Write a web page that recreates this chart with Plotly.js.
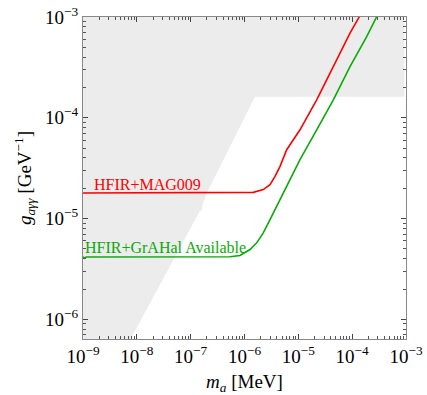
<!DOCTYPE html>
<html><head><meta charset="utf-8">
<script src="https://cdn.plot.ly/plotly-3.0.1.min.js"></script>
<style>html,body{margin:0;padding:0;background:#fff}#c{width:427px;height:395px}</style>
</head><body><div id="c"></div>
<script>
// log10 values
const regionLogX = [-9.2, -8.22, -8.108, -6.845, -6.83, -6.80, -6.78, -6.74, -6.696, -5.805, -3.03, -3.03, -9.2];
const regionLogY = [-6.3, -6.3, -6.188, -4.941, -4.925, -4.93, -4.86, -4.80, -4.743, -3.792, -3.792, -2.9, -2.9];

const redLogX = [-9.0, -7.0, -6.2, -5.836, -5.651, -5.526, -5.433, -5.340, -5.216, -4.969, -4.659, -4.350, -4.040, -3.867, -3.85];
const redLogY = [-4.746, -4.746, -4.745, -4.740, -4.713, -4.663, -4.581, -4.482, -4.317, -4.119, -3.822, -3.492, -3.161, -2.997, -2.98];

const greenLogX = [-9.0, -8.97, -8.94, -8.0, -6.827, -6.269, -6.083, -5.898, -5.773, -5.651, -5.526, -5.340, -5.155, -4.969, -4.659, -4.350, -4.040, -3.730, -3.544, -3.53];
const greenLogY = [-5.379, -5.392, -5.381, -5.381, -5.381, -5.379, -5.366, -5.307, -5.241, -5.142, -5.010, -4.812, -4.614, -4.416, -4.119, -3.822, -3.492, -3.195, -2.997, -2.98];

const labels = ["HFIR+MAG009", "HFIR+GrAHal Available"];
const xTickVals = [1e-9, 1e-8, 1e-7, 1e-6, 1e-5, 1e-4, 1e-3];
const xTickText = ["10<sup>−9</sup>", "10<sup>−8</sup>", "10<sup>−7</sup>", "10<sup>−6</sup>", "10<sup>−5</sup>", "10<sup>−4</sup>", "10<sup>−3</sup>"];
const yTickVals = [1e-6, 1e-5, 1e-4, 1e-3];
const yTickText = ["10<sup>−6</sup>", "10<sup>−5</sup>", "10<sup>−4</sup>", "10<sup>−3</sup>"];

function minorTicks(lo, hi) {
  const out = [];
  for (let e = lo; e < hi; e++) for (let m = 2; m <= 9; m++) out.push(m * Math.pow(10, e));
  return out;
}

const p = a => a.map(v => Math.pow(10, v));
const serif = "Liberation Serif, Times New Roman, serif";

const traces = [
  {x: p(regionLogX), y: p(regionLogY), mode: 'lines', fill: 'toself', fillcolor: 'rgb(236,236,236)',
   line: {width: 0, color: 'rgba(0,0,0,0)'}, hoverinfo: 'skip'},
  {x: p(redLogX), y: p(redLogY), mode: 'lines', line: {color: '#ff0000', width: 1.6}},
  {x: p(greenLogX), y: p(greenLogY), mode: 'lines', line: {color: '#0aaa0a', width: 1.6}}
];

const axisCommon = {
  type: 'log', showgrid: false, zeroline: false, showline: true, linecolor: '#888', linewidth: 1,
  mirror: 'ticks', ticks: 'inside', ticklen: 5, tickcolor: '#444', tickwidth: 1,
  tickfont: {family: serif, size: 19, color: '#000'}
};

const layout = {
  width: 427, height: 395, showlegend: false,
  paper_bgcolor: '#fff', plot_bgcolor: '#fff',
  margin: {l: 83, r: 21, t: 17, b: 56},
  xaxis: Object.assign({}, axisCommon, {
    range: [-9, -3], tickmode: 'array', tickvals: xTickVals, ticktext: xTickText,
    minor: {tickmode: 'array', tickvals: minorTicks(-9, -3), ticks: 'inside', ticklen: 3, tickcolor: '#555', tickwidth: 1, showgrid: false},
    title: {text: '<i>m</i><sub><i>a</i></sub> [MeV]', font: {family: serif, size: 19, color: '#000'}, standoff: 16}
  }),
  yaxis: Object.assign({}, axisCommon, {
    range: [-6.195, -3], tickmode: 'array', tickvals: yTickVals, ticktext: yTickText,
    minor: {tickmode: 'array', tickvals: minorTicks(-7, -3), ticks: 'inside', ticklen: 3, tickcolor: '#555', tickwidth: 1, showgrid: false},
    title: {text: '<i>g</i><sub><i>aγγ</i></sub> [GeV<sup>−1</sup>]', font: {family: serif, size: 19, color: '#000'}, standoff: 8}
  }),
  annotations: [
    {x: -8.83, y: -4.663, xref: 'x', yref: 'y', text: labels[0], showarrow: false, xanchor: 'left', yanchor: 'middle',
     font: {family: serif, size: 16, color: '#ff0000'}},
    {x: 0, y: -5.287, xref: 'paper', yref: 'y', text: labels[1], showarrow: false, xanchor: 'left', yanchor: 'middle',
     font: {family: serif, size: 16, color: '#0aaa0a'}}
  ]
};

Plotly.newPlot('c', traces, layout, {staticPlot: true, displayModeBar: false});
</script></body></html>
